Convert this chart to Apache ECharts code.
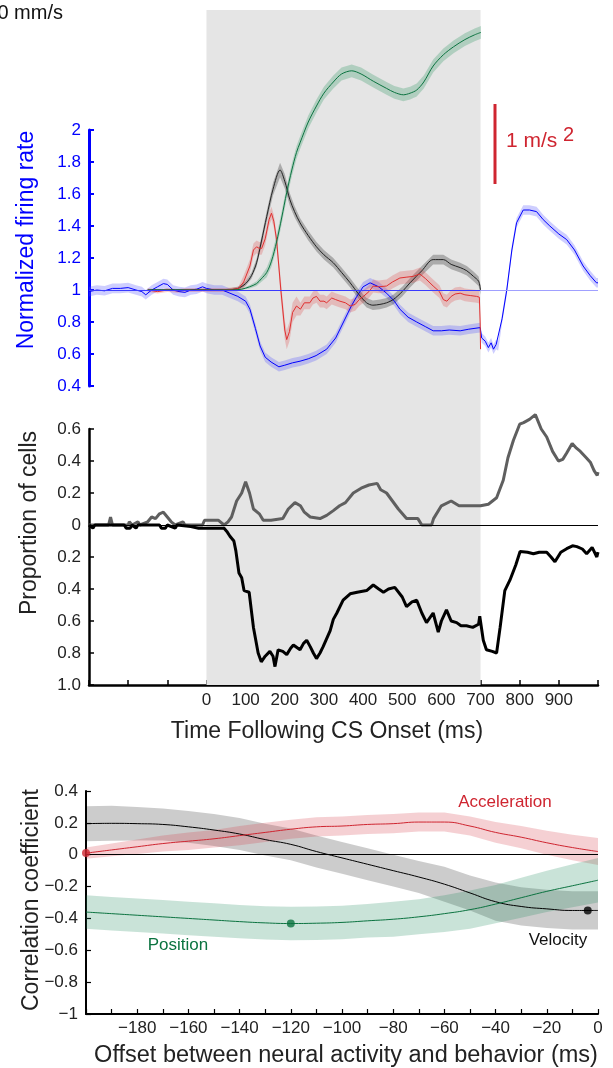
<!DOCTYPE html>
<html><head><meta charset="utf-8">
<script src="https://cdn.jsdelivr.net/npm/echarts@6/dist/echarts.min.js"></script>
<style>html,body{margin:0;padding:0;background:#fff}#c{width:613px;height:1068px}</style>
</head><body><div id="c"></div><script>
// ---------- Top panel: normalized firing rate (blue) + kinematic traces (same plotted scale)
const rateT = [-300,-280,-260,-240,-220,-200,-180,-165,-155,-140,-125,-110,-100,-85,-70,-55,-40,-25,-10,0,20,40,60,80,100,111,125,137,150,165,185,200,220,239,260,280,307,330,350,370,384,400,418,440,460,480,494,515,537,560,579,600,620,648,670,699,703,712,720,727,733,740,745,755,767,780,792,809,825,843,860,877,900,920,940,962,980,996,1000];
const rateV = [0.99,1.0,0.995,1.01,1.01,1.015,1.0,0.99,0.97,1.0,1.02,1.04,1.035,1.0,0.99,0.985,1.0,1.005,1.02,1.01,1.0,1.0,0.98,0.96,0.93,0.88,0.76,0.65,0.58,0.55,0.52,0.53,0.545,0.555,0.57,0.59,0.63,0.70,0.80,0.90,0.96,1.02,1.045,1.02,0.98,0.93,0.88,0.83,0.80,0.77,0.745,0.745,0.75,0.745,0.755,0.765,0.70,0.68,0.64,0.67,0.63,0.66,0.65,0.82,1.0,1.25,1.42,1.50,1.50,1.49,1.44,1.40,1.35,1.315,1.25,1.15,1.09,1.045,1.045];
const rateErr = 0.03;

const velT = [-150,0,50,80,100,115,128,140,154,170,188,200,213,225,239,260,281,300,324,345,367,390,409,425,443,460,477,500,520,550,579,605,625,648,665,682,695,700];
const velV = [1.0,1.0,1.0,1.01,1.04,1.09,1.17,1.30,1.46,1.63,1.75,1.68,1.565,1.49,1.42,1.34,1.27,1.22,1.17,1.11,1.045,0.97,0.92,0.905,0.91,0.92,0.94,0.99,1.045,1.12,1.19,1.19,1.16,1.14,1.12,1.085,1.055,1.0];
const velErr = [0.004,0.004,0.006,0.01,0.015,0.02,0.025,0.03,0.035,0.04,0.045,0.045,0.04,0.035,0.03,0.03,0.03,0.03,0.03,0.03,0.03,0.03,0.03,0.03,0.03,0.03,0.03,0.03,0.03,0.03,0.03,0.03,0.03,0.03,0.03,0.03,0.03,0.03];

const accT = [-150,-125,-100,-75,-50,0,50,70,82,95,111,120,128,135,141,150,160,166,172,179,190,200,205,212,220,230,240,250,264,272,281,290,300,307,320,330,341,355,367,380,390,401,415,426,440,460,475,494,510,528,545,560,579,595,605,614,625,635,648,660,675,690,697,699,700];
const accV = [1.0,0.99,1.0,0.995,1.0,1.0,1.0,1.005,1.01,1.05,1.15,1.25,1.27,1.26,1.26,1.32,1.44,1.48,1.43,1.315,1.0,0.75,0.69,0.74,0.86,0.90,0.88,0.92,0.92,0.95,0.96,0.93,0.93,0.92,0.95,0.94,0.93,0.92,0.90,0.91,0.94,0.96,0.99,1.025,1.02,1.025,1.05,1.075,1.08,1.085,1.10,1.07,1.025,0.99,0.94,0.93,0.96,0.975,0.98,0.97,0.965,0.96,0.955,0.8,0.63];
const accErr = [0.012,0.012,0.012,0.012,0.012,0.012,0.012,0.012,0.012,0.04,0.04,0.04,0.04,0.04,0.04,0.04,0.04,0.04,0.04,0.04,0.06,0.06,0.06,0.06,0.06,0.06,0.04,0.04,0.04,0.04,0.04,0.04,0.04,0.04,0.04,0.04,0.04,0.04,0.04,0.04,0.04,0.04,0.04,0.04,0.04,0.04,0.04,0.04,0.04,0.04,0.04,0.04,0.04,0.04,0.04,0.04,0.04,0.04,0.04,0.04,0.04,0.04,0.04,0.04,0.04];

const posT = [-150,0,60,90,110,128,140,154,166,179,192,205,218,230,239,260,281,300,324,345,371,395,426,460,480,503,520,537,555,579,605,631,660,685,701];
const posV = [1.0,1.0,1.0,1.005,1.02,1.04,1.07,1.11,1.18,1.30,1.45,1.61,1.75,1.86,1.92,2.05,2.15,2.23,2.30,2.35,2.37,2.35,2.305,2.26,2.235,2.22,2.23,2.25,2.30,2.40,2.47,2.52,2.565,2.595,2.61];
const posErr = [0.004,0.004,0.004,0.004,0.01,0.015,0.02,0.03,0.035,0.04,0.04,0.04,0.04,0.04,0.04,0.04,0.04,0.04,0.04,0.04,0.04,0.04,0.04,0.04,0.04,0.04,0.04,0.04,0.04,0.04,0.04,0.04,0.04,0.04,0.04];

const csWindow = [0, 700];

// ---------- Middle panel: proportion of cells (up = increase, down = decrease)
const upT = [-300,-250,-245,-240,-200,-197,-190,-175,-170,-150,-140,-130,-120,-110,-100,-90,-80,-60,-55,-10,-5,30,45,55,64,77,90,100,110,120,135,145,165,195,209,226,240,250,265,290,307,324,340,355,375,395,415,436,445,460,475,490,511,540,550,575,580,600,625,645,700,720,741,758,770,784,800,810,825,840,855,869,884,899,910,920,934,945,955,970,981,990,998,1000];
const upV = [0,0,0.05,0,0,0.02,0,0.02,0,0.02,0.05,0.04,0.07,0.08,0.05,0.02,0,0.02,0,0,0.03,0.03,0,0.02,0.05,0.15,0.2,0.27,0.2,0.1,0.07,0.03,0.03,0.04,0.1,0.14,0.12,0.08,0.05,0.04,0.06,0.09,0.12,0.14,0.2,0.23,0.25,0.26,0.22,0.2,0.15,0.1,0.04,0.04,0,0,0.04,0.12,0.15,0.12,0.12,0.13,0.17,0.28,0.42,0.53,0.63,0.64,0.66,0.69,0.6,0.55,0.46,0.40,0.41,0.45,0.51,0.48,0.46,0.42,0.39,0.34,0.31,0.33];
const downT = [-300,-290,-285,-210,-205,-195,-190,-180,-175,-120,-115,-105,-100,-80,-75,-40,-20,0,20,45,52,60,70,75,83,90,96,109,120,132,140,150,162,170,175,183,195,205,215,222,239,248,256,265,273,281,290,298,316,324,333,349,367,385,409,426,440,452,465,481,500,511,525,537,550,562,579,592,600,613,625,639,650,664,680,695,698,707,715,730,741,750,762,775,790,801,820,835,850,869,880,890,905,920,935,946,960,971,985,997,1000];
const downV = [0,0.02,0,0,0.02,0.02,0,0.02,0,0,0.02,0.02,0,0.02,0,0.01,0.02,0.02,0.02,0.02,0.04,0.07,0.1,0.16,0.30,0.33,0.41,0.42,0.64,0.80,0.855,0.82,0.79,0.82,0.885,0.78,0.79,0.81,0.77,0.75,0.78,0.74,0.72,0.76,0.80,0.835,0.8,0.76,0.66,0.59,0.55,0.47,0.43,0.42,0.41,0.375,0.4,0.42,0.4,0.39,0.45,0.51,0.48,0.47,0.55,0.61,0.55,0.67,0.6,0.53,0.6,0.61,0.63,0.63,0.64,0.62,0.57,0.72,0.78,0.79,0.80,0.64,0.41,0.345,0.25,0.166,0.17,0.18,0.17,0.17,0.2,0.23,0.17,0.148,0.13,0.135,0.15,0.18,0.14,0.20,0.17];

// ---------- Bottom panel: correlation vs offset
const lagT = [-200,-190,-180,-170,-160,-150,-140,-130,-120,-110,-100,-90,-80,-70,-60,-50,-40,-30,-20,-10,0];
const corrVel = [0.195,0.197,0.195,0.19,0.175,0.155,0.13,0.095,0.065,0.02,-0.02,-0.06,-0.10,-0.14,-0.185,-0.24,-0.295,-0.325,-0.34,-0.35,-0.35];
const corrVelErr = [0.11,0.11,0.105,0.1,0.1,0.1,0.1,0.1,0.1,0.1,0.1,0.1,0.1,0.1,0.11,0.11,0.12,0.12,0.12,0.12,0.12];
const corrAcc = [0.01,0.03,0.05,0.07,0.085,0.10,0.12,0.14,0.16,0.175,0.18,0.19,0.195,0.205,0.205,0.18,0.14,0.11,0.075,0.045,0.02];
const corrAccErr = [0.035,0.04,0.045,0.05,0.055,0.055,0.06,0.06,0.06,0.06,0.06,0.06,0.06,0.06,0.06,0.06,0.065,0.07,0.075,0.08,0.085];
const corrPos = [-0.36,-0.37,-0.38,-0.39,-0.40,-0.41,-0.42,-0.428,-0.432,-0.43,-0.425,-0.415,-0.405,-0.39,-0.37,-0.345,-0.31,-0.27,-0.23,-0.195,-0.16];
const corrPosErr = [0.105,0.105,0.105,0.105,0.105,0.105,0.105,0.105,0.105,0.105,0.105,0.105,0.11,0.11,0.115,0.12,0.12,0.125,0.13,0.135,0.14];
const peakAcc = [-200, 0.01];
const peakPos = [-120, -0.432];
const peakVel = [-4, -0.35];

// ---------- build
const F = 'Liberation Sans';
const RED = '#cf2530', GREEN = '#0b7340', BLUE = '#0000ff';
const zip = (xs, ys) => xs.map((x, i) => [x, ys[i]]);
const arr = (xs, e) => Array.isArray(e) ? e : xs.map(() => e);
// confidence band drawn as one polygon through the axis scales
function band(xs, ys, err, color, ax) {
  const es = arr(xs, err);
  const hi = xs.map((x, i) => [x, ys[i] + es[i]]);
  const lo = xs.map((x, i) => [x, ys[i] - es[i]]);
  return {type:'custom', xAxisIndex:ax, yAxisIndex:ax, silent:true, z:2, clip:false,
    data:[[xs[0], ys[0]]], encode:{x:0, y:1},
    renderItem:(params, api) => {
      const pts = hi.map(p => api.coord(p)).concat(lo.slice().reverse().map(p => api.coord(p)));
      return {type:'polygon', shape:{points:pts}, style:{fill:color, stroke:null}};
    }};
}
function trace(xs, ys, color, width, ax, smooth, extra) {
  return Object.assign({type:'line', xAxisIndex:ax, yAxisIndex:ax, data:zip(xs, ys), symbol:'none',
    lineStyle:{color:color, width:width}, smooth:smooth, clip:false, silent:true, z:3}, extra || {});
}
const axisLbl = (extra) => Object.assign({color:'#222', fontSize:17, fontFamily:F}, extra);
const hLine = (color, width) => ({silent:true, symbol:['none','none'], label:{show:false}, lineStyle:{color:color, width:width, type:'solid'}});

const series = [
  {type:'line', xAxisIndex:0, yAxisIndex:0, data:[[csWindow[0],0]], symbol:'none', lineStyle:{opacity:0}, silent:true, z:0,
   markArea:{silent:true, itemStyle:{color:'#e5e5e5'}, data:[[{xAxis:csWindow[0], yAxis:0},{xAxis:csWindow[1], yAxis:1}]]}},
  band(rateT, rateV, rateErr, 'rgba(80,80,255,0.28)', 1),
  trace(rateT, rateV, BLUE, 1, 1, false, {markLine:Object.assign(hLine('#3b3bff', 1), {data:[[{coord:[-300,1]},{coord:[csWindow[1],1]}]]})}),
  trace(rateT, rateV, BLUE, 1, 1, false, {lineStyle:{opacity:0}, markLine:Object.assign(hLine('#a0a0ff', 1), {data:[[{coord:[csWindow[1],1]},{coord:[1000,1]}]]})}),
  band(velT, velV, velErr, 'rgba(0,0,0,0.25)', 1),
  trace(velT, velV, '#222', 1, 1, 0.3),
  band(accT, accV, accErr, 'rgba(225,60,60,0.25)', 1),
  trace(accT, accV, '#e03030', 1, 1, false),
  band(posT, posV, posErr, 'rgba(20,140,80,0.25)', 1),
  trace(posT, posV, GREEN, 1, 1, 0.3),
  trace(upT, upV, '#5f5f5f', 3, 2, false, {markLine:Object.assign(hLine('#000', 1), {data:[{yAxis:0}]})}),
  trace(downT, downV.map(v => -v), '#000', 3, 2, false),
  band(lagT, corrVel, corrVelErr, 'rgba(0,0,0,0.2)', 3),
  band(lagT, corrAcc, corrAccErr, 'rgba(215,60,70,0.24)', 3),
  band(lagT, corrPos, corrPosErr, 'rgba(30,140,90,0.24)', 3),
  trace(lagT, corrVel, '#000', 1, 3, true, {markLine:Object.assign(hLine('#000', 1.2), {data:[{yAxis:0}]})}),
  trace(lagT, corrAcc, RED, 1, 3, true),
  trace(lagT, corrPos, GREEN, 1, 3, true),
  {type:'scatter', xAxisIndex:3, yAxisIndex:3, clip:false, silent:true, z:5, symbolSize:8,
   data:[{value:peakAcc, itemStyle:{color:RED}}, {value:peakPos, itemStyle:{color:GREEN}}, {value:peakVel, itemStyle:{color:'#000'}}]}
];

const blackAxis = (w) => ({show:true, onZero:false, lineStyle:{color:'#000', width:w}});
const option = {
  animation:false,
  backgroundColor:'#fff',
  textStyle:{fontFamily:F},
  grid:[
    {left:89, width:509, top:10, height:675, outerBoundsMode:'none', containLabel:false},
    {left:89, width:509, top:130, height:256, outerBoundsMode:'none', containLabel:false},
    {left:89, width:509, top:429, height:256, outerBoundsMode:'none', containLabel:false},
    {left:86, width:512, top:791, height:223, outerBoundsMode:'none', containLabel:false}
  ],
  xAxis:[
    {gridIndex:0, type:'value', min:-300, max:1000, show:false},
    {gridIndex:1, type:'value', min:-300, max:1000, show:false},
    {gridIndex:2, type:'value', min:-300, max:1000, interval:100, position:'bottom', axisLine:blackAxis(2.5),
     axisTick:{show:true, inside:true, length:5, lineStyle:{color:'#000', width:1.5}},
     axisLabel:axisLbl({margin:7, formatter:v => (v >= 0 && v <= 900) ? String(v) : ''}), splitLine:{show:false}},
    {gridIndex:3, type:'value', min:-200, max:0, interval:10, position:'bottom', axisLine:blackAxis(2),
     axisTick:{show:true, inside:true, length:5, lineStyle:{color:'#000', width:1.2}},
     axisLabel:axisLbl({margin:6, formatter:v => (v === -200 || v % 20 !== 0) ? '' : (v < 0 ? '\u2212' + (-v) : '0')}),
     splitLine:{show:false}}
  ],
  yAxis:[
    {gridIndex:0, type:'value', min:0, max:1, show:false},
    {gridIndex:1, type:'value', min:0.4, max:2, interval:0.2, position:'left',
     axisLine:{show:true, onZero:false, lineStyle:{color:BLUE, width:3}},
     axisTick:{show:true, inside:true, length:5, lineStyle:{color:BLUE, width:2}},
     axisLabel:axisLbl({color:BLUE, margin:8}), splitLine:{show:false}},
    {gridIndex:2, type:'value', min:-1, max:0.6, interval:0.2, position:'left', axisLine:blackAxis(2.5),
     axisTick:{show:true, inside:true, length:5, lineStyle:{color:'#000', width:1.5}},
     axisLabel:axisLbl({margin:8, formatter:v => Math.abs(v) < 1e-9 ? '0' : Math.abs(v).toFixed(1)}), splitLine:{show:false}},
    {gridIndex:3, type:'value', min:-1, max:0.4, interval:0.2, position:'left', axisLine:blackAxis(2),
     axisTick:{show:true, inside:true, length:5, lineStyle:{color:'#000', width:1.2}},
     axisLabel:axisLbl({margin:8, formatter:v => Math.abs(v) < 1e-9 ? '0' : (v < 0 ? '\u2212' : '') + (+Math.abs(v).toFixed(1))}),
     splitLine:{show:false}}
  ],
  series:series,
  graphic:[
    {type:'text', x:63, y:13, silent:true, style:{text:'20 mm/s', fill:'#111', fontSize:20, fontFamily:F, align:'right', verticalAlign:'middle'}},
    {type:'line', silent:true, shape:{x1:495, y1:104, x2:495, y2:184}, style:{stroke:RED, lineWidth:3}},
    {type:'text', x:506, y:141, silent:true, style:{text:'1 m/s', fill:RED, fontSize:21, fontFamily:F, align:'left', verticalAlign:'middle'}},
    {type:'text', x:563, y:135, silent:true, style:{text:'2', fill:RED, fontSize:20, fontFamily:F, align:'left', verticalAlign:'middle'}},
    {type:'text', x:27, y:240, rotation:Math.PI/2, silent:true, style:{text:'Normalized firing rate', fill:BLUE, fontSize:23, fontFamily:F, align:'center', verticalAlign:'middle'}},
    {type:'text', x:30, y:523, rotation:Math.PI/2, silent:true, style:{text:'Proportion of cells', fill:'#222', fontSize:23, fontFamily:F, align:'center', verticalAlign:'middle'}},
    {type:'text', x:327, y:732, silent:true, style:{text:'Time Following CS Onset (ms)', fill:'#222', fontSize:23, fontFamily:F, align:'center', verticalAlign:'middle'}},
    {type:'text', x:32, y:900, rotation:Math.PI/2, silent:true, style:{text:'Correlation coefficient', fill:'#222', fontSize:23, fontFamily:F, align:'center', verticalAlign:'middle'}},
    {type:'text', x:346, y:1056, silent:true, style:{text:'Offset between neural activity and behavior (ms)', fill:'#222', fontSize:23.5, fontFamily:F, align:'center', verticalAlign:'middle'}},
    {type:'text', x:505, y:802, silent:true, style:{text:'Acceleration', fill:RED, fontSize:17, fontFamily:F, align:'center', verticalAlign:'middle'}},
    {type:'text', x:558, y:940, silent:true, style:{text:'Velocity', fill:'#111', fontSize:17, fontFamily:F, align:'center', verticalAlign:'middle'}},
    {type:'text', x:178, y:945, silent:true, style:{text:'Position', fill:GREEN, fontSize:17, fontFamily:F, align:'center', verticalAlign:'middle'}}
  ]
};
const chart = echarts.init(document.getElementById('c'));
chart.setOption(option);
</script></body></html>
